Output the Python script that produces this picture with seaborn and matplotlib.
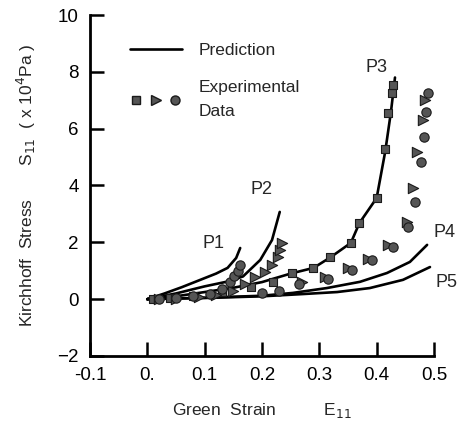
import numpy as np
import pandas as pd
import matplotlib
matplotlib.use("Agg")
import matplotlib.pyplot as plt
import seaborn as sns
from matplotlib.lines import Line2D
from matplotlib.legend_handler import HandlerTuple

# ---- Prediction curves ----
p1_x = [0.0, 0.03, 0.06, 0.09, 0.12, 0.14, 0.155, 0.162]
p1_y = [0.0, 0.2, 0.42, 0.66, 0.9, 1.1, 1.45, 1.8]
p2_x = [0.0, 0.05, 0.1, 0.14, 0.167, 0.197, 0.2175, 0.231]
p2_y = [0.0, 0.2, 0.45, 0.62, 0.8, 1.38, 2.08, 3.07]
p3_x = [0.0, 0.05, 0.1, 0.15, 0.2, 0.25, 0.29, 0.32, 0.355, 0.37, 0.40, 0.415, 0.425, 0.432]
p3_y = [0.0, 0.1, 0.25, 0.4, 0.6, 0.9, 1.1, 1.48, 1.98, 2.68, 3.56, 5.2, 6.6, 7.8]
p4_x = [0.0, 0.1, 0.2, 0.254, 0.313, 0.371, 0.418, 0.458, 0.488]
p4_y = [0.0, 0.05, 0.12, 0.22, 0.39, 0.61, 0.92, 1.31, 1.91]
p5_x = [0.0, 0.1, 0.2, 0.272, 0.331, 0.388, 0.446, 0.493]
p5_y = [0.0, 0.04, 0.1, 0.18, 0.25, 0.39, 0.68, 1.13]

# ---- Experimental data ----
sq_x = [0.01, 0.04, 0.08, 0.13, 0.18, 0.22, 0.252, 0.289, 0.319, 0.355, 0.369, 0.401, 0.415, 0.42, 0.427, 0.429]
sq_y = [0.0, 0.05, 0.12, 0.25, 0.42, 0.62, 0.92, 1.10, 1.48, 1.98, 2.68, 3.56, 5.28, 6.55, 7.26, 7.54]
tri_x = [0.02, 0.05, 0.09, 0.12, 0.15, 0.17, 0.188, 0.205, 0.217, 0.228, 0.232, 0.235,
         0.27, 0.31, 0.35, 0.385, 0.42, 0.453, 0.463, 0.47, 0.48, 0.485]
tri_y = [0.0, 0.02, 0.06, 0.15, 0.3, 0.55, 0.78, 0.96, 1.2, 1.5, 1.73, 1.98,
         0.6, 0.78, 1.08, 1.43, 1.92, 2.72, 3.9, 5.18, 6.3, 7.0]
cir_x = [0.02, 0.05, 0.08, 0.11, 0.13, 0.145, 0.152, 0.158, 0.162, 0.2, 0.23,
         0.265, 0.315, 0.357, 0.392, 0.428, 0.455, 0.467, 0.477, 0.482, 0.486, 0.49]
cir_y = [0.0, 0.05, 0.1, 0.18, 0.35, 0.6, 0.8, 1.0, 1.2, 0.2, 0.3,
         0.52, 0.72, 1.03, 1.38, 1.85, 2.54, 3.42, 4.83, 5.7, 6.59, 7.26]

x_ticks = [-0.1, 0.0, 0.1, 0.2, 0.3, 0.4, 0.5]
x_tick_labels = ["-0.1", "0.", "0.1", "0.2", "0.3", "0.4", "0.5"]
y_ticks = [-2, 0, 2, 4, 6, 8, 10]
curve_names = ["P1", "P2", "P3", "P4", "P5"]
label_x = [0.115, 0.2, 0.4, 0.518, 0.522]
label_y = [1.95, 3.85, 8.15, 2.33, 0.6]

sns.set_style("ticks")
plt.rcParams["font.family"] = ["Liberation Sans", "DejaVu Sans"]

pred = pd.concat([
    pd.DataFrame({"x": xs, "y": ys, "curve": n})
    for xs, ys, n in zip([p1_x, p2_x, p3_x, p4_x, p5_x],
                         [p1_y, p2_y, p3_y, p4_y, p5_y], curve_names)
])

fig = plt.figure(figsize=(4.59, 4.25), dpi=100)
ax = fig.add_axes([0.196, 0.1624, 0.7495, 0.8023])

sns.lineplot(data=pred, x="x", y="y", units="curve", estimator=None,
             color="black", lw=1.9, sort=False, ax=ax, legend=False)

mk = dict(color="#555555", edgecolor="#1a1a1a", linewidth=0.8, ax=ax, legend=False, zorder=3)
sns.scatterplot(x=sq_x, y=sq_y, marker="s", s=36, **mk)
sns.scatterplot(x=tri_x, y=tri_y, marker=">", s=55, **mk)
sns.scatterplot(x=cir_x, y=cir_y, marker="o", s=45, **mk)

for n, tx, ty in zip(curve_names, label_x, label_y):
    ax.text(tx, ty, n, fontsize=13, ha="center", va="center", clip_on=False)

ax.set_xlim(-0.1, 0.5)
ax.set_ylim(-2, 10)
ax.set_xticks(x_ticks)
ax.set_xticklabels(x_tick_labels)
ax.set_yticks(y_ticks)
ax.tick_params(direction="in", length=10, width=1.8, labelsize=13.5, pad=8, colors="black")
for s in ["left", "bottom"]:
    ax.spines[s].set_linewidth(2.0)
    ax.spines[s].set_color("black")
sns.despine(ax=ax)

ax.set_xlabel("Green  Strain          E$_{11}$", fontsize=12.5, labelpad=12)
ax.set_ylabel("Kirchhoff  Stress       S$_{11}$  ( x 10$^4$Pa )", fontsize=12.5, labelpad=14)

h_line = Line2D([], [], color="black", lw=1.9)
h_sq = Line2D([], [], ls="", marker="s", ms=6, mfc="#555555", mec="#1a1a1a")
h_tri = Line2D([], [], ls="", marker=">", ms=7, mfc="#555555", mec="#1a1a1a")
h_cir = Line2D([], [], ls="", marker="o", ms=6.5, mfc="#555555", mec="#1a1a1a")
leg = ax.legend([h_line, (h_sq, h_tri, h_cir)], ["Prediction", "Experimental\nData"],
                handler_map={tuple: HandlerTuple(ndivide=None, pad=0.4)},
                loc="upper left", bbox_to_anchor=(0.07, 0.965), frameon=False,
                fontsize=12.5, handlelength=3.0, labelspacing=1.3, handletextpad=1.0)
leg.get_texts()[1].set_linespacing(1.75)

fig.savefig("out.png", dpi=100)
